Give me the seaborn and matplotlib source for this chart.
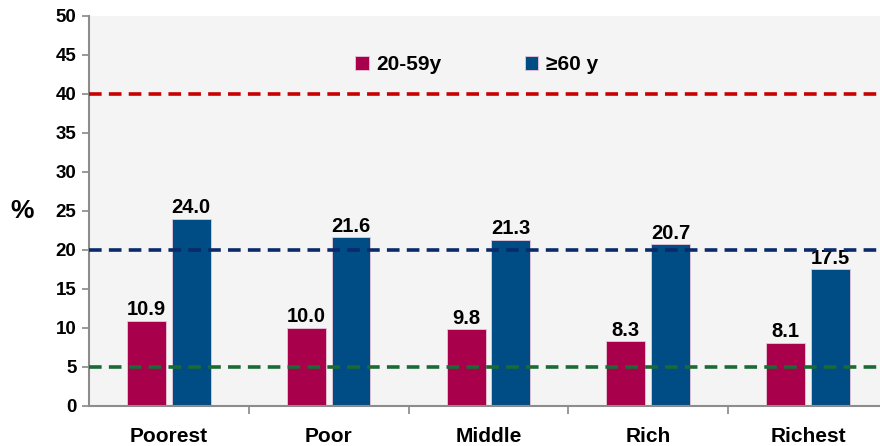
import numpy as np
import pandas as pd
import seaborn as sns
import matplotlib.pyplot as plt

# data
groups = ['Poorest', 'Poor', 'Middle', 'Rich', 'Richest']
age_20_59 = [10.9, 10.0, 9.8, 8.3, 8.1]
age_60 = [24.0, 21.6, 21.3, 20.7, 17.5]
series = ['20-59y', '\u226560 y']
ref_lines = [40, 20, 5]
ref_colors = ['#C80000', '#0A2A6A', '#1A6A35']

df = pd.DataFrame({
    'group': groups * 2,
    'pct': age_20_59 + age_60,
    'age': [series[0]] * 5 + [series[1]] * 5,
})

sns.set_theme(style='white')
plt.rcParams['font.family'] = ['Liberation Sans', 'DejaVu Sans']
plt.rcParams['font.weight'] = 'bold'
plt.rcParams['text.color'] = 'black'
plt.rcParams['xtick.color'] = 'black'
plt.rcParams['ytick.color'] = 'black'

fig = plt.figure(figsize=(8.8, 4.46), dpi=100)
ax = fig.add_axes([0.101, 0.09, 0.899, 0.875])
ax.set_facecolor('#F4F4F4')

palette = {series[0]: '#A8004A', series[1]: '#004C84'}
sns.barplot(data=df, x='group', y='pct', hue='age', palette=palette,
            width=0.56, gap=0.13, saturation=1, ax=ax,
            edgecolor='#E8C8D8', linewidth=0.6, zorder=2)

for cont in ax.containers:
    ax.bar_label(cont, fmt='%.1f', fontsize=14.5, fontweight='bold', padding=1, color='black')

for y, c in zip(ref_lines, ref_colors):
    ax.axhline(y, color=c, linestyle=(0, (3.5, 2)), linewidth=2.6, zorder=3)

ax.set_xlim(-0.5, 4.45)
ax.set_ylim(0, 50)
ax.set_yticks(range(0, 51, 5))
ax.set_xlabel('')
ax.set_ylabel('%', rotation=0, fontsize=19, fontweight='bold', color='black', va='center')
ax.yaxis.set_label_coords(-0.085, 0.5)

ax.tick_params(axis='y', labelsize=13.5, left=True, length=5, color='#888888', width=1.2,
               labelcolor='black', pad=4)
ax.tick_params(axis='x', labelsize=15, bottom=False, pad=9, labelcolor='black')
for t in ax.get_yticklabels() + ax.get_xticklabels():
    t.set_fontweight('bold')

# category boundary ticks
ax.set_xticks(np.arange(0.5, 4.5, 1), minor=True)
ax.tick_params(axis='x', which='minor', bottom=True, length=6, color='#888888', width=1.2)

for s in ['top', 'right']:
    ax.spines[s].set_visible(False)
for s in ['left', 'bottom']:
    ax.spines[s].set_color('#8C8C8C')
    ax.spines[s].set_linewidth(1.5)

leg = ax.legend(loc='center', bbox_to_anchor=(0.49, 0.875), ncol=2, frameon=False,
                handlelength=0.65, handleheight=0.65, handletextpad=0.35, columnspacing=4,
                prop={'size': 15, 'weight': 'bold'}, title=None)

fig.savefig('out.png', dpi=100)
